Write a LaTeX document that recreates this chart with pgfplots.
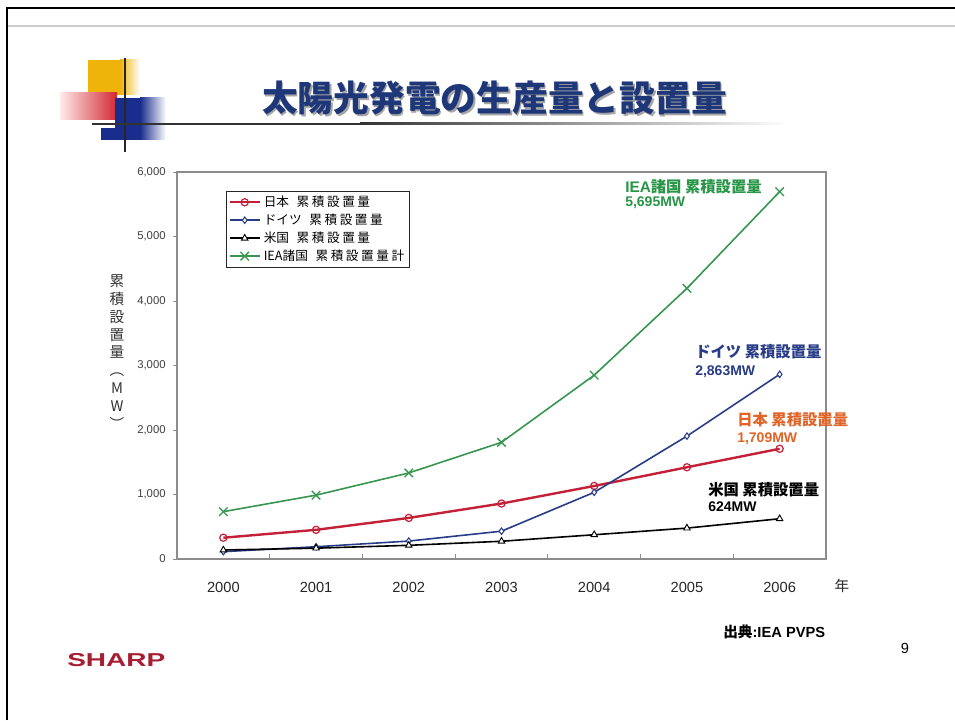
\documentclass[border=0pt]{standalone}
\usepackage{fontspec}
\setmainfont{Liberation Sans}
\newfontfamily\jp{Noto Sans CJK JP}
\newfontfamily\jpls[LetterSpace=20]{Noto Sans CJK JP}
\usepackage{graphicx}
\usepackage{pgfplots}
\usepackage{pgfplotstable}
\pgfplotsset{compat=1.18}

\definecolor{jpred}{RGB}{196,32,56}
\definecolor{denavy}{RGB}{40,60,135}
\definecolor{ieagreen}{RGB}{56,150,80}
\definecolor{titlenavy}{RGB}{30,55,120}
\definecolor{annorange}{RGB}{225,100,40}
\definecolor{anngreen}{RGB}{40,150,70}
\definecolor{yel}{RGB}{238,180,10}
\definecolor{logored}{RGB}{210,40,50}
\definecolor{logoblue}{RGB}{25,45,140}
\definecolor{sharpred}{RGB}{165,30,50}

\pgfplotstableread{
idx jp de us iea
0 330 114 139 734
1 452 190 168 990
2 637 278 212 1334
3 860 431 275 1809
4 1132 1034 376 2850
5 1422 1905 479 4196
6 1709 2863 624 5695
}\pvdata

\begin{document}
\begin{tikzpicture}[x=0.75pt,y=0.75pt]
\useasboundingbox (0,0) rectangle (955,720);
\fill[white] (0,0) rectangle (955,720);
% slide frame
\draw[line width=1.6pt] (7,0) -- (7,712) -- (955,712);
\draw[line width=1.5pt, black!20] (8,694) -- (955,694);
% logo
\fill[yel] (88,625) rectangle (120,660);
\shade[left color=yel, right color=white] (120,625) rectangle (140,660);
\shade[left color=red!8, right color=logored] (60,600) rectangle (117,627);
\fill[logoblue] (115,592) rectangle (140,622);
\fill[logoblue] (101,580) rectangle (140,592);
\shade[left color=logoblue, right color=white] (140,580) rectangle (166,622);
\draw[line width=1.5pt, black!85] (125,568) -- (125,662);
\fill[black!80] (92,595) rectangle (360,597);
\shade[left color=black!80, right color=white] (360,595) rectangle (790,597);
% title
\node[text=black!35, font=\jp\bfseries\fontsize{26.8}{27}\selectfont] at (496,96.5+524) {太陽光発電の生産量と設置量};
\node[text=titlenavy, font=\jp\bfseries\fontsize{26.8}{27}\selectfont] at (494.5,622) {太陽光発電の生産量と設置量};

\begin{axis}[
  at={(132.75pt,120.75pt)}, anchor=south west, scale only axis,
  width=486.75pt, height=290.25pt,
  xmin=-0.5, xmax=6.5, ymin=0, ymax=6000,
  xtick={0,...,6}, xticklabels={2000,2001,2002,2003,2004,2005,2006},
  minor xtick={0.5,1.5,...,5.5},
  ytick={0,1000,...,6000},
  scaled y ticks=false,
  axis line style={draw=black!45, line width=0.8pt},
  tick align=outside, xtick pos=bottom, ytick pos=left,
  major tick length=3pt, minor tick length=4pt,
  major x tick style={draw=none},
  minor x tick style={draw=black!45, line width=0.6pt, yshift=4pt},
  ytick style={draw=black!45, line width=0.6pt},
  /pgf/number format/assume math mode=true,
  /pgf/number format/1000 sep={,},
  yticklabel style={font=\fontsize{8.5}{10}\selectfont, text=black!75, xshift=-2pt},
  xticklabel style={font=\fontsize{11}{12}\selectfont, text=black!85, yshift=-11pt},
  legend style={at={(0.0755,0.951)}, anchor=north west, draw=black!85, line width=0.5pt,
    font=\jp\fontsize{9.5}{10}\selectfont, inner sep=1.5pt, row sep=0pt,
    cells={anchor=west}, fill=white},
  legend image code/.code={\draw[mark repeat=2,mark phase=2] plot coordinates {(0cm,0cm)(0.4cm,0cm)(0.8cm,0cm)};},
]
\addplot[color=jpred, line width=1.8pt, mark=o, mark size=2.7pt,
  mark options={solid, fill=white, draw=jpred, line width=0.9pt}] table[x=idx,y=jp] {\pvdata};
\addlegendentry{日本\hspace{0.6em}{\jpls 累積設置量}}
\addplot[color=denavy, line width=1.2pt, mark=diamond*, mark size=2.4pt,
  mark options={solid, fill=white, draw=denavy, line width=0.8pt}] table[x=idx,y=de] {\pvdata};
\addlegendentry{ドイツ\hspace{0.6em}{\jpls 累積設置量}}
\addplot[color=black, line width=1.2pt, mark=triangle*, mark size=2.8pt,
  mark options={solid, fill=white, draw=black, line width=0.7pt}] table[x=idx,y=us] {\pvdata};
\addlegendentry{米国\hspace{0.6em}{\jpls 累積設置量}}
\addplot[color=ieagreen, line width=1.2pt, mark=x, mark size=4.5pt,
  mark options={solid, draw=ieagreen, line width=1pt}] table[x=idx,y=iea] {\pvdata};
\addlegendentry{IEA諸国\hspace{0.6em}{\jpls 累積設置量計}}
\end{axis}

% annotations
\node[anchor=west, text=anngreen, font=\bfseries\fontsize{11.5}{12}\selectfont, inner sep=0pt] at (625,533) {IEA{\jp 諸国 累積設置量}};
\node[anchor=west, text=anngreen, font=\bfseries\fontsize{10.5}{12}\selectfont, inner sep=0pt] at (625,517) {5,695MW};
\node[anchor=west, text=denavy, font=\bfseries\fontsize{11.5}{12}\selectfont, inner sep=0pt] at (695,368) {\jp ドイツ 累積設置量};
\node[anchor=west, text=denavy, font=\bfseries\fontsize{10.5}{12}\selectfont, inner sep=0pt] at (695,348) {2,863MW};
\node[anchor=west, text=annorange, font=\bfseries\fontsize{11.5}{12}\selectfont, inner sep=0pt] at (737,300) {\jp 日本 累積設置量};
\node[anchor=west, text=annorange, font=\bfseries\fontsize{10.5}{12}\selectfont, inner sep=0pt] at (737,281) {1,709MW};
\node[anchor=west, text=black, font=\bfseries\fontsize{11.5}{12}\selectfont, inner sep=0pt] at (708,230) {\jp 米国 累積設置量};
\node[anchor=west, text=black, font=\bfseries\fontsize{10.5}{12}\selectfont, inner sep=0pt] at (708,213) {624MW};

% y axis label (vertical)
\node[align=center, text=black!80, font=\jp\fontsize{11}{13.4}\selectfont] at (117,368) {累\\積\\設\\置\\量\\︵\\M\\W\\︶};
% x unit
\node[text=black!85, font=\jp\fontsize{11}{11}\selectfont] at (842,134) {年};
% source, page, logo
\node[anchor=west, font=\bfseries\fontsize{11}{11}\selectfont, inner sep=0pt] at (723,88) {{\jp 出典}:IEA PVPS};
\node[font=\fontsize{11}{11}\selectfont] at (905,72) {9};
\node[anchor=west, text=sharpred, font=\bfseries\fontsize{14}{14}\selectfont, inner sep=0pt] at (67,60) {\scalebox{1.5}[1]{SHARP}};
\end{tikzpicture}
\end{document}
